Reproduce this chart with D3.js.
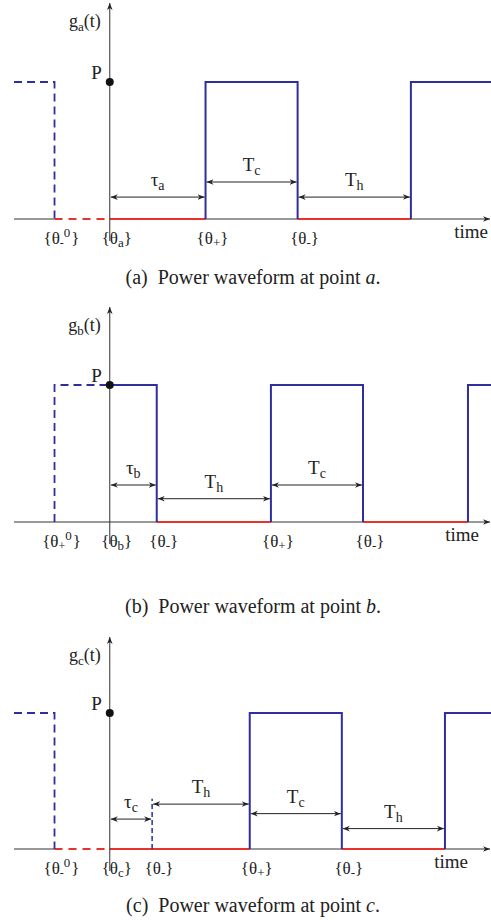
<!DOCTYPE html>
<html><head><meta charset="utf-8">
<script src="https://cdn.jsdelivr.net/npm/d3@7"></script>
<style>body{margin:0;background:#fff} svg{display:block} text{font-family:"Liberation Serif","Times New Roman",serif;fill:#222}</style>
</head><body>
<script>
// ---- data (time in arbitrary units, level in units of P) ----
const timeDomain = [-10.4, 41.4];

// Panel (a)
const dashBlueA = [[-10.4,1],[-6,1],[-6,0]];
const dashRedA  = [[-6,0],[0,0]];
const redA  = [[[0,0],[10.4,0]], [[20.4,0],[32.7,0]]];
const blueA = [[[10.4,0],[10.4,1],[20.4,1],[20.4,0]], [[32.7,0],[32.7,1],[41.4,1]]];
const shortDashA = [];
const spansA = [["τ","a",0,10.4,0.16], ["T","c",10.4,20.4,0.27], ["T","h",20.4,32.7,0.16]];
const ticksA = [["-","0",-6], ["a","",0], ["+","",10.4], ["-","",20.4]];

// Panel (b)
const dashBlueB = [[-6,0],[-6,1],[0,1]];
const dashRedB  = [];
const redB  = [[[5.1,0],[17.5,0]], [[27.5,0],[38.9,0]]];
const blueB = [[[0,1],[5.1,1],[5.1,0]], [[17.5,0],[17.5,1],[27.5,1],[27.5,0]], [[38.9,0],[38.9,1],[41.4,1]]];
const shortDashB = [];
const spansB = [["τ","b",0,5.1,0.27], ["T","h",5.1,17.5,0.17], ["T","c",17.5,27.5,0.27]];
const ticksB = [["+","0",-6], ["b","",0], ["-","",5.1], ["+","",17.5], ["-","",27.5]];

// Panel (c)
const dashBlueC = [[-10.4,1],[-6,1],[-6,0]];
const dashRedC  = [[-6,0],[0,0]];
const redC  = [[[0,0],[15.2,0]], [[25.2,0],[36.4,0]]];
const blueC = [[[15.2,0],[15.2,1],[25.2,1],[25.2,0]], [[36.4,0],[36.4,1],[41.4,1]]];
const shortDashC = [[4.6,0],[4.6,0.37]];
const spansC = [["τ","c",0,4.6,0.22], ["T","h",4.6,15.2,0.33], ["T","c",15.2,25.2,0.26], ["T","h",25.2,36.4,0.15]];
const ticksC = [["-","0",-6], ["c","",0], ["-","",4.6], ["+","",15.2], ["-","",25.2]];

const panelNames = ["a","b","c"];

// ---- layout ----
const W = 491, H = 920;
const layout = [
  {base:219, ph:137, top:3,   cap:284, timeEnd:488},
  {base:522, ph:137, top:307, cap:613, timeEnd:479},
  {base:849, ph:136, top:637, cap:912, timeEnd:468}
];
const panelData = [
  {dashBlue:dashBlueA, dashRed:dashRedA, red:redA, blue:blueA, shortDash:shortDashA, spans:spansA, ticks:ticksA},
  {dashBlue:dashBlueB, dashRed:dashRedB, red:redB, blue:blueB, shortDash:shortDashB, spans:spansB, ticks:ticksB},
  {dashBlue:dashBlueC, dashRed:dashRedC, red:redC, blue:blueC, shortDash:shortDashC, spans:spansC, ticks:ticksC}
];

const BLUE = "#2e2e9e", RED = "#e8322c", AX = "#333";

const svg = d3.select("body").append("svg").attr("width", W).attr("height", H);
const defs = svg.append("defs");
defs.append("marker").attr("id","ah").attr("viewBox","0 0 10 10").attr("refX",10).attr("refY",5)
  .attr("markerWidth",7).attr("markerHeight",7).attr("markerUnits","userSpaceOnUse").attr("orient","auto-start-reverse")
  .append("path").attr("d","M0,1 L10,5 L0,9 L3,5 Z").attr("fill","#222");

const x = d3.scaleLinear().domain(timeDomain).range([14, 491]);

panelData.forEach((pd, i) => {
  const L = layout[i];
  const y = d3.scaleLinear().domain([0,1]).range([L.base, L.base - L.ph]);
  const line = d3.line().x(d => x(d[0])).y(d => y(d[1]));
  const g = svg.append("g");

  // baseline (time axis)
  g.append("line").attr("x1", x(timeDomain[0])).attr("x2", 490).attr("y1", y(0)).attr("y2", y(0))
    .attr("stroke", AX).attr("stroke-width", 1).attr("marker-end", "url(#ah)");

  // dashed red (with white under to hide baseline)
  if (pd.dashRed.length) {
    g.append("path").attr("d", line(pd.dashRed)).attr("stroke","#fff").attr("stroke-width",3).attr("fill","none");
    g.append("path").attr("d", line(pd.dashRed)).attr("stroke",RED).attr("stroke-width",2)
      .attr("stroke-dasharray","8,6").attr("fill","none");
  }
  // red solid segments
  pd.red.forEach(s => g.append("path").attr("d", line(s)).attr("stroke",RED).attr("stroke-width",2).attr("fill","none"));
  // dashed blue
  g.append("path").attr("d", line(pd.dashBlue)).attr("stroke",BLUE).attr("stroke-width",1.8)
    .attr("stroke-dasharray","8,5").attr("fill","none");
  if (pd.shortDash.length) {
    g.append("path").attr("d", line(pd.shortDash)).attr("stroke",BLUE).attr("stroke-width",1.5)
      .attr("stroke-dasharray","5,3").attr("fill","none");
  }
  // blue solid
  pd.blue.forEach(s => g.append("path").attr("d", line(s)).attr("stroke",BLUE).attr("stroke-width",2).attr("fill","none"));

  // vertical axis
  g.append("line").attr("x1", x(0)).attr("x2", x(0)).attr("y1", y(0) + 22).attr("y2", L.top)
    .attr("stroke", AX).attr("stroke-width", 1).attr("marker-end", "url(#ah)");
  // P dot and label
  g.append("circle").attr("cx", x(0)).attr("cy", y(1)).attr("r", 4).attr("fill", "#111");
  g.append("text").attr("x", x(0) - 8).attr("y", y(1) - 3).attr("text-anchor","end").attr("font-size",19).text("P");
  // y label g_x(t)
  const yl = g.append("text").attr("x", x(0) - 9).attr("y", L.top + 24).attr("text-anchor","end").attr("font-size",18);
  yl.append("tspan").text("g");
  yl.append("tspan").attr("font-size",13).attr("dy",4).text(panelNames[i]);
  yl.append("tspan").attr("dy",-4).text("(t)");

  // time label
  g.append("text").attr("x", L.timeEnd).attr("y", y(0) + 19).attr("text-anchor","end").attr("font-size",19).text("time");

  // span arrows
  pd.spans.forEach(s => {
    const [sym, sub, t0, t1, h] = s;
    const yy = y(h);
    g.append("line").attr("x1", x(t0) + 1).attr("x2", x(t1) - 1).attr("y1", yy).attr("y2", yy)
      .attr("stroke","#222").attr("stroke-width",1)
      .attr("marker-start","url(#ah)").attr("marker-end","url(#ah)");
    const tx = g.append("text").attr("x", (x(t0) + x(t1)) / 2).attr("y", yy - 11)
      .attr("text-anchor","middle").attr("font-size",19);
    tx.append("tspan").text(sym);
    tx.append("tspan").attr("font-size",14).attr("dy",4).text(sub);
  });

  // tick labels {θ..}
  pd.ticks.forEach(tk => {
    const [sub, sup, t] = tk;
    const tx = g.append("text").attr("x", x(t) + 7).attr("y", y(0) + 25)
      .attr("text-anchor","middle").attr("font-size",17);
    tx.append("tspan").text("{θ");
    if (sup) {
      tx.append("tspan").attr("font-size",12).attr("dy",3).text(sub);
      tx.append("tspan").attr("font-size",13).attr("dy",-10).text(sup);
      tx.append("tspan").attr("dx",1).attr("dy",7).text("}");
    } else {
      tx.append("tspan").attr("font-size",13).attr("dy",3).text(sub);
      tx.append("tspan").attr("dy",-3).text("}");
    }
  });

  // caption
  const cap = svg.append("text").attr("x", 253).attr("y", L.cap).attr("text-anchor","middle")
    .attr("font-size",20).style("white-space","pre");
  cap.append("tspan").text("(" + panelNames[i] + ")  Power waveform at point ");
  cap.append("tspan").attr("font-style","italic").text(panelNames[i]);
  cap.append("tspan").text(".");
});
</script>
</body></html>
